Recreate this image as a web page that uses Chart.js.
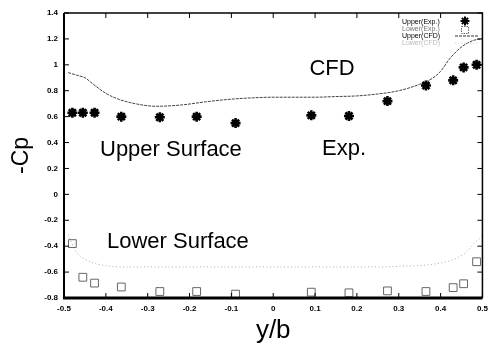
<!DOCTYPE html>
<html>
<head>
<meta charset="utf-8">
<script src="https://cdn.jsdelivr.net/npm/chart.js@4.4.0/dist/chart.umd.min.js"></script>
<style>
  html, body { margin: 0; padding: 0; background: #fff; }
  #wrap { width: 494px; height: 346px; }
</style>
</head>
<body>
<div id="wrap"><canvas id="cpChart"></canvas></div>
<script>
// spanwise stations of the pressure taps (y/b)
const expStations = [-0.48, -0.455, -0.427, -0.363, -0.271, -0.183, -0.09, 0.091, 0.181, 0.273, 0.365, 0.43, 0.455, 0.486];
const upperExp = [0.63, 0.63, 0.63, 0.60, 0.595, 0.60, 0.55, 0.61, 0.605, 0.72, 0.84, 0.88, 0.98, 1.0];
const lowerExp = [-0.38, -0.64, -0.685, -0.715, -0.75, -0.75, -0.77, -0.755, -0.76, -0.745, -0.75, -0.72, -0.69, -0.52];

// CFD curves
const cfdStations = [-0.49, -0.47, -0.45, -0.43, -0.40, -0.37, -0.33, -0.28, -0.22, -0.16, -0.10, -0.05, 0, 0.05, 0.10, 0.15, 0.20, 0.25, 0.30, 0.35, 0.38, 0.40, 0.42, 0.44, 0.46, 0.48, 0.50];
const upperCfd = [0.94, 0.92, 0.90, 0.85, 0.78, 0.735, 0.70, 0.68, 0.69, 0.715, 0.735, 0.745, 0.75, 0.75, 0.75, 0.755, 0.76, 0.775, 0.80, 0.85, 0.895, 0.95, 1.04, 1.11, 1.16, 1.19, 1.20];
const lowerCfd = [-0.31, -0.45, -0.50, -0.53, -0.55, -0.56, -0.56, -0.56, -0.56, -0.56, -0.56, -0.56, -0.56, -0.56, -0.56, -0.56, -0.56, -0.56, -0.555, -0.55, -0.54, -0.53, -0.515, -0.49, -0.45, -0.38, -0.32];

const seriesLabels = ['Upper(Exp.)', 'Lower(Exp.)', 'Upper(CFD)', 'Lower(CFD)'];
const xTicks = [-0.5, -0.4, -0.3, -0.2, -0.1, 0, 0.1, 0.2, 0.3, 0.4, 0.5];
const yTicks = [-0.8, -0.6, -0.4, -0.2, 0, 0.2, 0.4, 0.6, 0.8, 1, 1.2, 1.4];

const pts = (xs, ys) => xs.map((x, i) => ({ x: x, y: ys[i] }));

// frame + inward ticks on all four sides
const framePlugin = {
  id: 'frame',
  afterDraw(chart) {
    const { ctx, chartArea: a, scales } = chart;
    ctx.save();
    ctx.strokeStyle = '#000';
    ctx.lineWidth = 1;
    xTicks.forEach(v => {
      const px = scales.x.getPixelForValue(v);
      ctx.beginPath();
      ctx.moveTo(px, a.top); ctx.lineTo(px, a.top + 5);
      ctx.moveTo(px, a.bottom); ctx.lineTo(px, a.bottom - 5);
      ctx.stroke();
    });
    yTicks.forEach(v => {
      const py = scales.y.getPixelForValue(v);
      ctx.beginPath();
      ctx.moveTo(a.left, py); ctx.lineTo(a.left + 5, py);
      ctx.moveTo(a.right, py); ctx.lineTo(a.right - 5, py);
      ctx.stroke();
    });
    ctx.lineWidth = 1.5;
    ctx.beginPath();
    ctx.moveTo(a.left, a.top); ctx.lineTo(a.right, a.top); ctx.lineTo(a.right, a.bottom);
    ctx.stroke();
    ctx.lineWidth = 2;
    ctx.beginPath();
    ctx.moveTo(a.left, a.top); ctx.lineTo(a.left, a.bottom);
    ctx.stroke();
    ctx.lineWidth = 3;
    ctx.beginPath();
    ctx.moveTo(a.left - 1, a.bottom); ctx.lineTo(a.right, a.bottom);
    ctx.stroke();
    ctx.restore();
  }
};

// text labels written on the plot
const notesPlugin = {
  id: 'notes',
  afterDraw(chart) {
    const ctx = chart.ctx;
    ctx.save();
    ctx.fillStyle = '#000';
    ctx.font = '22px "Liberation Sans", Arial, sans-serif';
    ctx.textBaseline = 'alphabetic';
    ctx.textAlign = 'center';
    ctx.fillText('CFD', 332, 75);
    ctx.fillText('Exp.', 344, 155);
    ctx.textAlign = 'left';
    ctx.fillText('Upper Surface', 100, 156);
    ctx.fillText('Lower Surface', 107, 248);
    ctx.restore();
  }
};

// small legend inside the top right corner
const legendPlugin = {
  id: 'innerLegend',
  afterDraw(chart) {
    const ctx = chart.ctx;
    const colors = ['#000', '#777', '#000', '#bbb'];
    ctx.save();
    ctx.font = '7px "Liberation Sans", Arial, sans-serif';
    ctx.textBaseline = 'middle';
    ctx.textAlign = 'left';
    seriesLabels.forEach((lab, i) => {
      const y = 22 + i * 7;
      ctx.fillStyle = colors[i];
      ctx.fillText(lab, 402, y);
    });
    // star
    ctx.strokeStyle = '#000';
    ctx.lineWidth = 2;
    const sx = 465, sy = 21, r = 4.5;
    ctx.beginPath();
    ctx.moveTo(sx - r, sy); ctx.lineTo(sx + r, sy);
    ctx.moveTo(sx, sy - r); ctx.lineTo(sx, sy + r);
    ctx.moveTo(sx - r * 0.7, sy - r * 0.7); ctx.lineTo(sx + r * 0.7, sy + r * 0.7);
    ctx.moveTo(sx - r * 0.7, sy + r * 0.7); ctx.lineTo(sx + r * 0.7, sy - r * 0.7);
    ctx.stroke();
    // square
    ctx.strokeStyle = '#666';
    ctx.lineWidth = 1;
    ctx.setLineDash([1.5, 1]);
    ctx.strokeRect(461.5, 26.5, 7, 7);
    // lines
    ctx.strokeStyle = '#333';
    ctx.setLineDash([3, 1]);
    ctx.beginPath(); ctx.moveTo(455, 36); ctx.lineTo(478, 36); ctx.stroke();
    ctx.strokeStyle = '#ccc';
    ctx.setLineDash([1, 2]);
    ctx.beginPath(); ctx.moveTo(455, 43); ctx.lineTo(478, 43); ctx.stroke();
    ctx.restore();
  }
};

const ctx = document.getElementById('cpChart').getContext('2d');

const cpChart = new Chart(ctx, {
  type: 'scatter',
  data: {
    datasets: [
      {
        label: seriesLabels[0],
        data: pts(expStations, upperExp),
        pointStyle: 'star',
        pointRadius: 5,
        pointBorderWidth: 2.6,
        borderColor: '#000',
        backgroundColor: '#000',
        showLine: false
      },
      {
        label: seriesLabels[1],
        data: pts(expStations, lowerExp),
        pointStyle: 'rect',
        pointRadius: 5.5,
        pointBorderWidth: 1,
        borderColor: '#666',
        backgroundColor: 'rgba(255,255,255,0)',
        showLine: false
      },
      {
        label: seriesLabels[2],
        data: pts(cfdStations, upperCfd),
        showLine: true,
        pointRadius: 0,
        borderColor: '#444',
        borderWidth: 1,
        borderDash: [3, 1],
        cubicInterpolationMode: 'monotone'
      },
      {
        label: seriesLabels[3],
        data: pts(cfdStations, lowerCfd),
        showLine: true,
        pointRadius: 0,
        borderColor: '#aaa',
        borderWidth: 1,
        borderDash: [1, 2.5],
        cubicInterpolationMode: 'monotone'
      }
    ]
  },
  options: {
    responsive: true,
    maintainAspectRatio: false,
    animation: false,
    layout: { padding: { top: 13, right: 7, left: 0, bottom: 0 } },
    plugins: {
      legend: { display: false },
      tooltip: { enabled: false }
    },
    scales: {
      x: {
        type: 'linear',
        min: -0.5,
        max: 0.5,
        afterFit: s => { s.height = 48; },
        afterBuildTicks: s => { s.ticks = xTicks.map(v => ({ value: v })); },
        grid: { display: false, drawTicks: false },
        border: { display: false },
        ticks: {
          padding: 6,
          color: '#000',
          font: { size: 8, weight: 'bold', family: '"Liberation Sans", Arial, sans-serif' },
          callback: v => String(Math.round(v * 10) / 10)
        },
        title: {
          display: true,
          text: 'y/b',
          color: '#000',
          padding: { top: 0, bottom: 0 },
          font: { size: 26, family: '"Liberation Sans", Arial, sans-serif' }
        }
      },
      y: {
        type: 'linear',
        min: -0.8,
        max: 1.4,
        afterFit: s => { s.width = 64; },
        afterBuildTicks: s => { s.ticks = yTicks.map(v => ({ value: v })); },
        grid: { display: false, drawTicks: false },
        border: { display: false },
        ticks: {
          padding: 6,
          color: '#000',
          font: { size: 8, weight: 'bold', family: '"Liberation Sans", Arial, sans-serif' },
          callback: v => String(Math.round(v * 10) / 10)
        },
        title: {
          display: true,
          text: '-Cp',
          color: '#000',
          padding: { top: 8, bottom: 0 },
          font: { size: 23, family: '"Liberation Sans", Arial, sans-serif' }
        }
      }
    }
  },
  plugins: [framePlugin, notesPlugin, legendPlugin]
});
</script>
</body>
</html>
